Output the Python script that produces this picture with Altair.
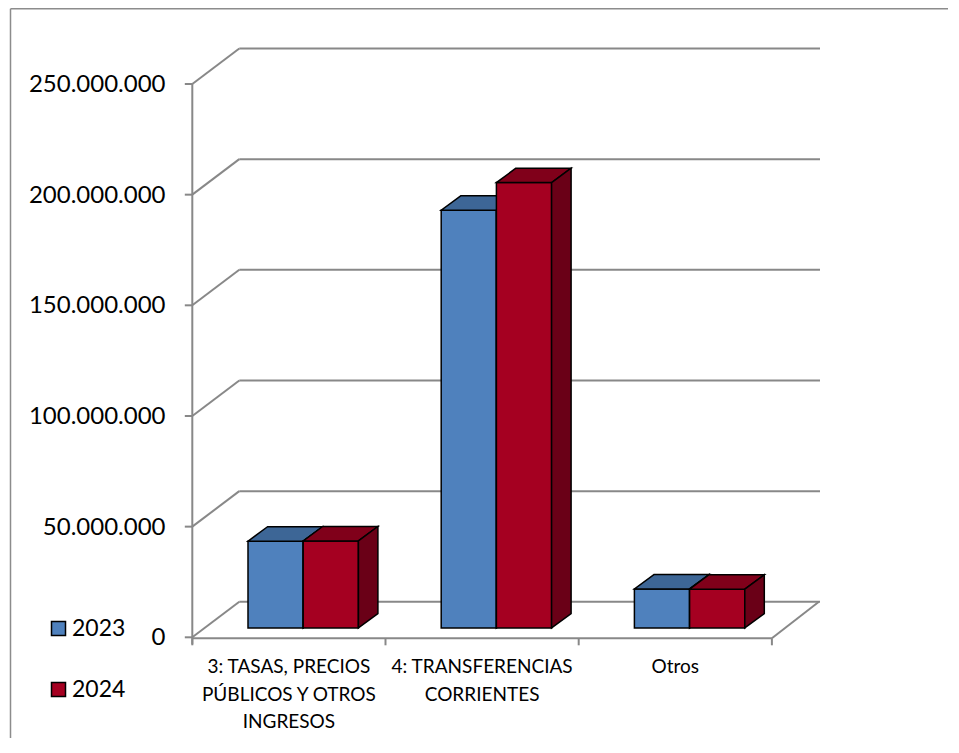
import altair as alt
import pandas as pd

# ---------------- data ----------------
categories = ["3: TASAS, PRECIOS\nPÚBLICOS Y OTROS\nINGRESOS", "4: TRANSFERENCIAS\nCORRIENTES", "Otros"]
series = ["2023", "2024"]
values_2023 = [39_200_000, 188_700_000, 17_600_000]
values_2024 = [39_300_000, 201_200_000, 17_500_000]
tick_values = [0, 50_000_000, 100_000_000, 150_000_000, 200_000_000, 250_000_000]
tick_labels = ["0", "50.000.000", "100.000.000", "150.000.000", "200.000.000", "250.000.000"]

# ---------------- style / layout ----------------
front_colors = ["#4F81BD", "#A50021"]
top_colors = ["#3D6696", "#80001A"]
side_colors = ["#385E8C", "#6A0017"]
GRID = "#888888"

W, H = 940, 730
K = 110.66 / 50_000_000          # px per value unit
Y0 = 629.3                       # view px of value 0 on the front plane


def v(dpx):
    return dpx / K


Y_TOP = Y0 / K
Y_BOT = (Y0 - H) / K

AX = 184.3            # front value axis
CW = 193.2            # category width
WALL_DX, WALL_DY = 47.0, 35.5
BACK_RIGHT = 812.0
BAR_SHIFT_X, BAR_SHIFT_Y = 14.3, 9.4
BAR_W = 55.2
BAR_DX, BAR_DY = 19.5, 14.4
LABEL_X = 157.5

xs = alt.Scale(domain=[0, W], nice=False, zero=False)
ys = alt.Scale(domain=[Y_BOT, Y_TOP], nice=False, zero=False)

# ---------------- geometry derived from data ----------------
fronts, tops, sides = [], [], []
for si, s in enumerate(series):
    vals = values_2023 if si == 0 else values_2024
    for ci, val in enumerate(vals):
        center = AX + (ci + 0.5) * CW + BAR_SHIFT_X
        left = center - BAR_W + si * BAR_W
        right = left + BAR_W
        bottom = v(BAR_SHIFT_Y)
        top = bottom + val
        fid = f"{s}-{ci}"
        fronts.append(dict(series=s, x=left, x2=right, y=bottom, y2=top))
        tops.append(dict(fid=fid, series=s, fill=top_colors[si], y=top, x=left, x2=right))
        tops.append(dict(fid=fid, series=s, fill=top_colors[si], y=top + v(BAR_DY),
                         x=left + BAR_DX, x2=right + BAR_DX))
        sides.append(dict(fid=fid, series=s, fill=side_colors[si], x=right, y=bottom, y2=top))
        sides.append(dict(fid=fid, series=s, fill=side_colors[si], x=right + BAR_DX,
                          y=bottom + v(BAR_DY), y2=top + v(BAR_DY)))

fronts = pd.DataFrame(fronts)
tops = pd.DataFrame(tops)
sides = pd.DataFrame(sides)

grid = []
for tv in tick_values:
    grid.append(dict(x=AX, x2=AX + WALL_DX, y=tv, y2=tv + v(WALL_DY)))
    grid.append(dict(x=AX + WALL_DX, x2=BACK_RIGHT, y=tv + v(WALL_DY), y2=tv + v(WALL_DY)))
    grid.append(dict(x=AX - 7.5, x2=AX, y=tv, y2=tv))
grid.append(dict(x=AX, x2=AX, y=v(-7), y2=tick_values[-1]))
grid.append(dict(x=AX, x2=AX + 3 * CW, y=v(-1), y2=v(-1)))
grid.append(dict(x=AX + 3 * CW, x2=AX + 3 * CW + WALL_DX, y=v(-1), y2=v(WALL_DY)))
for i in range(4):
    grid.append(dict(x=AX + i * CW, x2=AX + i * CW, y=v(-1), y2=v(-8)))
grid = pd.DataFrame(grid)

border = pd.DataFrame([
    dict(x=2.5, x2=W, y=Y_TOP - v(0.75), y2=Y_TOP - v(0.75)),
    dict(x=2.5, x2=2.5, y=Y_TOP - v(0.75), y2=Y_BOT),
])

ticks_df = pd.DataFrame(dict(x=[LABEL_X] * len(tick_values), y=tick_values, label=tick_labels))
cats_df = pd.DataFrame(dict(x=[AX + (i + 0.5) * CW for i in range(len(categories))],
                            y=[0] * len(categories), label=categories))

# ---------------- layers ----------------
legend = alt.Legend(orient="none", legendX=39, legendY=609, title=None,
                    symbolType="square", symbolSize=196, symbolStrokeColor="black",
                    symbolStrokeWidth=1.5, labelFont="Lato", labelFontSize=23,
                    labelColor="black", rowPadding=37, labelOffset=2, padding=0)
color = alt.Color("series:N", scale=alt.Scale(domain=series, range=front_colors), legend=legend)

grid_layer = alt.Chart(grid).mark_rule(color=GRID, strokeWidth=2).encode(
    x=alt.X("x:Q", scale=xs, axis=None), x2="x2:Q",
    y=alt.Y("y:Q", scale=ys, axis=None), y2="y2:Q")

border_layer = alt.Chart(border).mark_rule(color="#8C8C8C", strokeWidth=1.5).encode(
    x=alt.X("x:Q", scale=xs, axis=None), x2="x2:Q",
    y=alt.Y("y:Q", scale=ys, axis=None), y2="y2:Q")

bar_layers = []
for s in series:
    f = alt.Chart(fronts).transform_filter(alt.datum.series == s).mark_rect(
        stroke="black", strokeWidth=1.5).encode(
        x=alt.X("x:Q", scale=xs, axis=None), x2="x2:Q",
        y=alt.Y("y:Q", scale=ys, axis=None), y2="y2:Q", color=color)
    t = alt.Chart(tops).transform_filter(alt.datum.series == s).mark_area(
        orient="horizontal", stroke="black", strokeWidth=1.5, interpolate="linear").encode(
        y=alt.Y("y:Q", scale=ys, axis=None),
        x=alt.X("x:Q", scale=xs, axis=None, stack=None), x2="x2:Q",
        detail="fid:N", fill=alt.Fill("fill:N", scale=None))
    sd = alt.Chart(sides).transform_filter(alt.datum.series == s).mark_area(
        orient="vertical", stroke="black", strokeWidth=1.5, interpolate="linear").encode(
        x=alt.X("x:Q", scale=xs, axis=None),
        y=alt.Y("y:Q", scale=ys, axis=None, stack=None), y2="y2:Q",
        detail="fid:N", fill=alt.Fill("fill:N", scale=None))
    bar_layers += [f, t, sd]

tick_text = alt.Chart(ticks_df).mark_text(
    align="right", baseline="middle", font="Lato", fontSize=24, color="black", dy=1).encode(
    x=alt.X("x:Q", scale=xs, axis=None), y=alt.Y("y:Q", scale=ys, axis=None), text="label:N")

cat_text = alt.Chart(cats_df).mark_text(
    align="center", baseline="top", font="Lato", fontSize=19, color="black",
    lineBreak="\n", lineHeight=27.3, dy=21).encode(
    x=alt.X("x:Q", scale=xs, axis=None), y=alt.Y("y:Q", scale=ys, axis=None), text="label:N")

chart = alt.layer(border_layer, grid_layer, *bar_layers, tick_text, cat_text).properties(
    width=W, height=H, padding=0, autosize="none", background="white"
).configure_view(stroke=None)

chart.save("out.html", embed_options={"renderer": "svg", "actions": False})
